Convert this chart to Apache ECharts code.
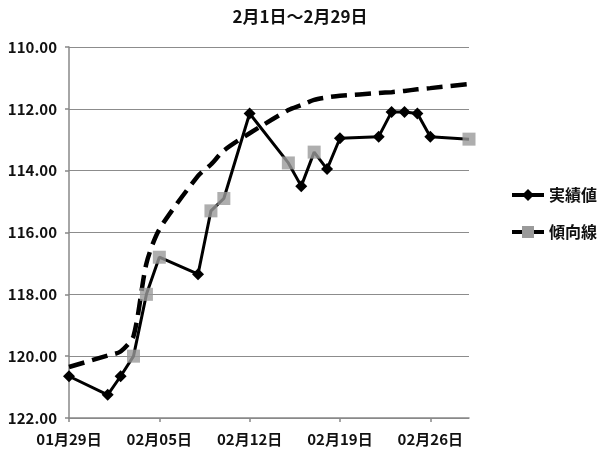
<!DOCTYPE html>
<html>
<head>
<meta charset="utf-8">
<script src="https://cdn.jsdelivr.net/npm/echarts@6/dist/echarts.min.js"></script>
<style>
  html, body { margin: 0; padding: 0; background: #fff; }
  #chart { width: 600px; height: 454px; }
</style>
</head>
<body>
<div id="chart"></div>
<script>
// Daily rate, 29 Jan - 29 Feb
const startDate = '2012-01-29';
const endDate = '2012-02-29';

const actualDates = ['2012-01-29', '2012-02-01', '2012-02-02', '2012-02-03', '2012-02-04',
  '2012-02-05', '2012-02-08', '2012-02-09', '2012-02-10', '2012-02-12', '2012-02-15',
  '2012-02-16', '2012-02-17', '2012-02-18', '2012-02-19', '2012-02-22', '2012-02-23',
  '2012-02-24', '2012-02-25', '2012-02-26', '2012-02-29'];
const actualValues = [120.65, 121.25, 120.65, 120.00, 118.00,
  116.80, 117.35, 115.30, 114.90, 112.15, 113.75,
  114.50, 113.40, 113.95, 112.95, 112.90, 112.10,
  112.10, 112.15, 112.90, 112.98];

// Dates marked with the trend-series square marker
const markerDates = ['2012-02-03', '2012-02-04', '2012-02-05', '2012-02-09', '2012-02-10',
  '2012-02-15', '2012-02-17', '2012-02-29'];
const markerValues = [120.00, 118.00, 116.80, 115.30, 114.90, 113.75, 113.40, 112.98];

// Fitted trend curve
const trendDates = ['2012-01-29', '2012-02-01', '2012-02-02', '2012-02-03', '2012-02-04',
  '2012-02-05', '2012-02-08', '2012-02-09', '2012-02-10', '2012-02-12', '2012-02-15',
  '2012-02-16', '2012-02-17', '2012-02-18', '2012-02-19', '2012-02-22', '2012-02-23',
  '2012-02-24', '2012-02-25', '2012-02-26', '2012-02-29'];
const trendValues = [120.35, 119.98, 119.85, 119.35, 117.00,
  115.90, 114.17, 113.80, 113.35, 112.79, 112.04,
  111.88, 111.71, 111.63, 111.58, 111.49, 111.46,
  111.42, 111.37, 111.33, 111.20];

const yTicks = [110, 112, 114, 116, 118, 120, 122];

const DAY = 86400000;
const t0 = Date.parse(startDate + 'T00:00:00Z');
const dayIndex = d => Math.round((Date.parse(d + 'T00:00:00Z') - t0) / DAY);
const pad = n => (n < 10 ? '0' : '') + n;
const dayLabel = v => {
  const d = new Date(t0 + v * DAY);
  return pad(d.getUTCMonth() + 1) + '月' + pad(d.getUTCDate()) + '日';
};

const markerSet = new Set(markerDates);
const actualData = actualDates.map((d, i) => {
  const item = { value: [dayIndex(d), actualValues[i]] };
  if (markerSet.has(d)) item.symbol = 'none';
  return item;
});
const markerData = markerDates.map((d, i) => [dayIndex(d), markerValues[i]]);
const trendData = trendDates.map((d, i) => [dayIndex(d), trendValues[i]]);

const font = '"Noto Sans CJK JP", "Noto Sans", sans-serif';

const chart = echarts.init(document.getElementById('chart'), null, { renderer: 'canvas' });
chart.setOption({
  animation: false,
  backgroundColor: '#ffffff',
  title: {
    text: '2月1日～2月29日',
    left: 'center',
    top: 6,
    padding: 0,
    textStyle: { fontFamily: font, fontSize: 17, fontWeight: 'bold', color: '#111', lineHeight: 22 }
  },
  legend: {
    orient: 'vertical',
    left: 510,
    top: 187,
    padding: 0,
    itemWidth: 32,
    itemHeight: 15,
    itemGap: 21,
    data: [
      '実績値',
      { name: '傾向線', lineStyle: { type: 'solid', width: 4, color: '#000' } }
    ],
    lineStyle: { width: 4 },
    textStyle: { fontFamily: font, fontSize: 16, fontWeight: 'bold', color: '#111', lineHeight: 16 }
  },
  grid: { left: 69, right: 131, top: 47, bottom: 36 },
  xAxis: {
    type: 'value',
    min: 0,
    max: dayIndex(endDate),
    interval: 7,
    axisLine: { lineStyle: { color: '#888', width: 1.5 } },
    axisTick: { show: true, length: 4, lineStyle: { color: '#888', width: 1.5 } },
    splitLine: { show: false },
    axisLabel: {
      formatter: dayLabel,
      margin: 14,
      fontFamily: font, fontSize: 15, fontWeight: 'bold', color: '#111'
    }
  },
  yAxis: {
    type: 'value',
    inverse: true,
    min: yTicks[0],
    max: yTicks[yTicks.length - 1],
    interval: 2,
    axisLine: { show: true, lineStyle: { color: '#888', width: 1.5 } },
    axisTick: { show: true, length: 4, lineStyle: { color: '#888', width: 1.5 } },
    splitLine: { lineStyle: { color: '#8c8c8c', width: 1.2 } },
    axisLabel: {
      formatter: v => v.toFixed(2),
      margin: 12,
      fontFamily: font, fontSize: 15, fontWeight: 'bold', color: '#111'
    }
  },
  series: [
    {
      name: '実績値',
      type: 'line',
      data: actualData,
      symbol: 'diamond',
      symbolSize: 12,
      itemStyle: { color: '#000' },
      lineStyle: { color: '#000', width: 3 },
      z: 3
    },
    {
      name: '傾向線',
      type: 'line',
      data: trendData,
      smooth: 0.25,
      symbol: 'rect',
      showSymbol: false,
      itemStyle: { color: '#9a9a9a' },
      lineStyle: { color: '#000', width: 4.5, type: [16, 8] },
      z: 2
    },
    {
      name: '傾向線',
      type: 'scatter',
      data: markerData,
      symbol: 'rect',
      symbolSize: 13,
      itemStyle: { color: '#9a9a9a' },
      z: 4
    }
  ]
});
</script>
</body>
</html>
